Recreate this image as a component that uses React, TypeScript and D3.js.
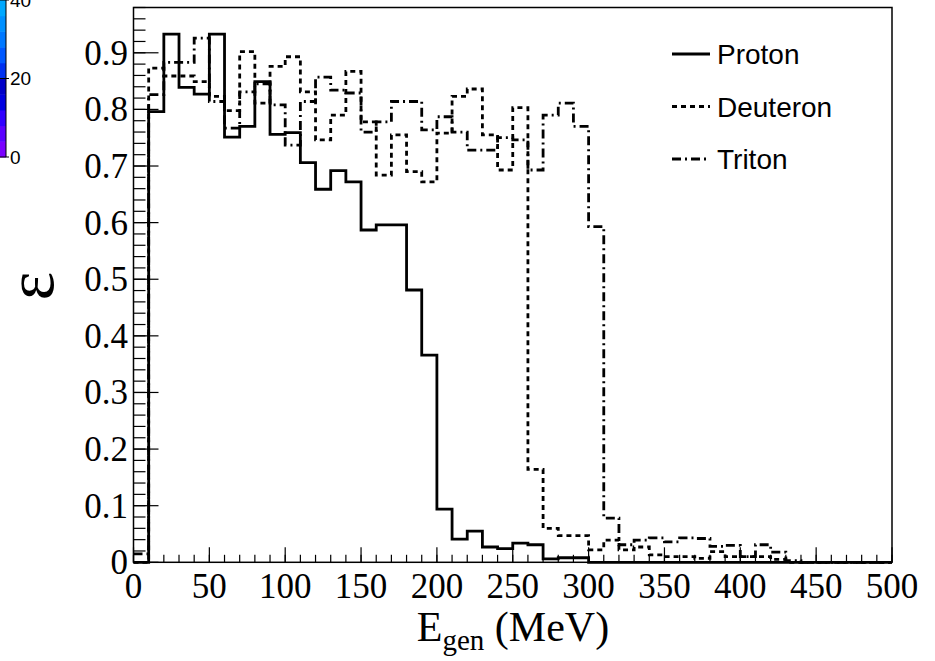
import React from "react";
import * as d3 from "d3";

const binEdges: number[] = d3.range(0, 500, 10);

const proton: number[] = [
  0, 0.796, 0.933, 0.839, 0.827, 0.933, 0.751, 0.77, 0.849, 0.756,
  0.759, 0.706, 0.659, 0.692, 0.672, 0.587, 0.596, 0.596, 0.481, 0.366,
  0.094, 0.041, 0.055, 0.027, 0.024, 0.034, 0.031, 0.006, 0.008, 0.008,
  0, 0, 0, 0, 0, 0, 0, 0, 0, 0,
  0, 0, 0, 0, 0, 0, 0, 0, 0, 0,
];

const deuteron: number[] = [
  0, 0.873, 0.859, 0.859, 0.849, 0.823, 0.798, 0.902, 0.811, 0.876,
  0.893, 0.831, 0.746, 0.79, 0.867, 0.778, 0.684, 0.755, 0.69, 0.672,
  0.758, 0.823, 0.836, 0.755, 0.693, 0.803, 0.164, 0.06, 0.047, 0.047,
  0.022, 0.039, 0.022, 0.027, 0.013, 0.01, 0.01, 0.007, 0.019, 0.01,
  0.01, 0.01, 0.005, 0, 0, 0, 0, 0, 0, 0,
];

const triton: number[] = [
  0.015, 0.826, 0.883, 0.883, 0.926, 0.814, 0.767, 0.831, 0.845, 0.808,
  0.737, 0.814, 0.857, 0.834, 0.829, 0.76, 0.778, 0.814, 0.814, 0.764,
  0.787, 0.76, 0.728, 0.728, 0.75, 0.746, 0.693, 0.79, 0.811, 0.77,
  0.593, 0.078, 0.031, 0.039, 0.043, 0.036, 0.043, 0.042, 0.028, 0.03,
  0.01, 0.031, 0.018, 0.003, 0, 0, 0, 0, 0, 0,
];

const xTicks: number[] = [0, 50, 100, 150, 200, 250, 300, 350, 400, 450, 500];
const yTicks: number[] = [0, 0.1, 0.2, 0.3, 0.4, 0.5, 0.6, 0.7, 0.8, 0.9];
const yTickLabels: string[] = ["0", "0.1", "0.2", "0.3", "0.4", "0.5", "0.6", "0.7", "0.8", "0.9"];
const legendNames: string[] = ["Proton", "Deuteron", "Triton"];
const paletteLabels: string[] = ["40", "20", "0"];
const paletteValues: number[] = [40, 20, 0];

const W = 935;
const H = 661;
const left = 133.5;
const right = 892;
const top = 7.5;
const bottom = 562.3;

export default function App() {
  const x = d3.scaleLinear().domain([0, 500]).range([left, right]);
  const y = d3.scaleLinear().domain([0, 0.98]).range([bottom, top]);

  const stepPath = (vals: number[]) => {
    const pts: [number, number][] = binEdges.map((e, i) => [e, vals[i]]);
    pts.push([500, vals[vals.length - 1]]);
    return d3
      .line<[number, number]>()
      .x((d) => x(d[0]))
      .y((d) => y(d[1]))
      .curve(d3.curveStepAfter)(pts) as string;
  };

  const series = [
    { vals: proton, dash: "none" },
    { vals: deuteron, dash: "5 4" },
    { vals: triton, dash: "9 4 2 4" },
  ];

  const yMinor = d3.range(0, 0.981, 0.02);
  const xMinor = d3.range(0, 501, 10);

  const pal = d3.scaleLinear().domain([0, 40]).range([157, 0]);
  const palColors = [
    "#7a00ff", "#5a00ff", "#3000ff", "#0000e0", "#0000c8", "#0030f0",
    "#0058ff", "#0078ff", "#0090ff", "#00a8ff",
  ];

  return (
    <svg width={W} height={H} style={{ display: "block", position: "absolute", left: 0, top: 0 }}>
      <rect x={0} y={0} width={W} height={H} fill="#fff" />
      {palColors.map((c, i) => (
        <rect key={i} x={0} y={pal(4 * (i + 1))} width={6} height={pal(4 * i) - pal(4 * (i + 1)) + 0.5} fill={c} />
      ))}
      <line x1={6} x2={6} y1={0} y2={157} stroke="#000" strokeWidth={1} />
      {paletteValues.map((v, i) => (
        <g key={i}>
          <line x1={0} x2={9} y1={pal(v)} y2={pal(v)} stroke="#000" strokeWidth={1} />
          <text x={10} y={pal(v)} dy="0.36em" fontFamily="Liberation Sans, Arial, sans-serif" fontSize={19} fill="#000">
            {paletteLabels[i]}
          </text>
        </g>
      ))}

      <rect x={left} y={top} width={right - left} height={bottom - top} fill="none" stroke="#000" strokeWidth={1.5} />

      {yMinor.map((v, i) => (
        <line key={"ym" + i} x1={left} x2={left + 12} y1={y(v)} y2={y(v)} stroke="#000" strokeWidth={1.2} />
      ))}
      {yTicks.map((v, i) => (
        <g key={"yt" + i}>
          <line x1={left} x2={left + 25} y1={y(v)} y2={y(v)} stroke="#000" strokeWidth={1.2} />
          <text x={128} y={y(v)} dy="0.34em" textAnchor="end" fontFamily="Liberation Serif, Times New Roman, serif" fontSize={35} fill="#000">
            {yTickLabels[i]}
          </text>
        </g>
      ))}

      {xMinor.map((v, i) => (
        <line key={"xm" + i} x1={x(v)} x2={x(v)} y1={bottom} y2={bottom - 7.5} stroke="#000" strokeWidth={1.2} />
      ))}
      {xTicks.map((v, i) => (
        <g key={"xt" + i}>
          <line x1={x(v)} x2={x(v)} y1={bottom} y2={bottom - 15} stroke="#000" strokeWidth={1.2} />
          <text x={x(v)} y={598} textAnchor="middle" fontFamily="Liberation Serif, Times New Roman, serif" fontSize={35} fill="#000">
            {String(v)}
          </text>
        </g>
      ))}

      {series.map((s, i) => (
        <path key={i} d={stepPath(s.vals)} fill="none" stroke="#000" strokeWidth={2.8} strokeDasharray={s.dash} strokeLinejoin="miter" />
      ))}

      <text x={513} y={641} textAnchor="middle" fontFamily="Liberation Serif, Times New Roman, serif" fontSize={42} fill="#000">
        E<tspan fontSize={29} dy={9}>gen</tspan>
        <tspan dy={-9}> (MeV)</tspan>
      </text>
      <text transform="translate(53,286) rotate(-90)" textAnchor="middle" fontFamily="Liberation Serif, Times New Roman, serif" fontSize={68} fill="#000">
        ε
      </text>

      {legendNames.map((n, i) => (
        <g key={n}>
          <line x1={672} x2={710} y1={54 + i * 52.5} y2={54 + i * 52.5} stroke="#000" strokeWidth={2.8} strokeDasharray={series[i].dash} />
          <text x={717} y={54 + i * 52.5} dy="0.36em" fontFamily="Liberation Sans, Arial, sans-serif" fontSize={28} fill="#000">
            {n}
          </text>
        </g>
      ))}
    </svg>
  );
}
